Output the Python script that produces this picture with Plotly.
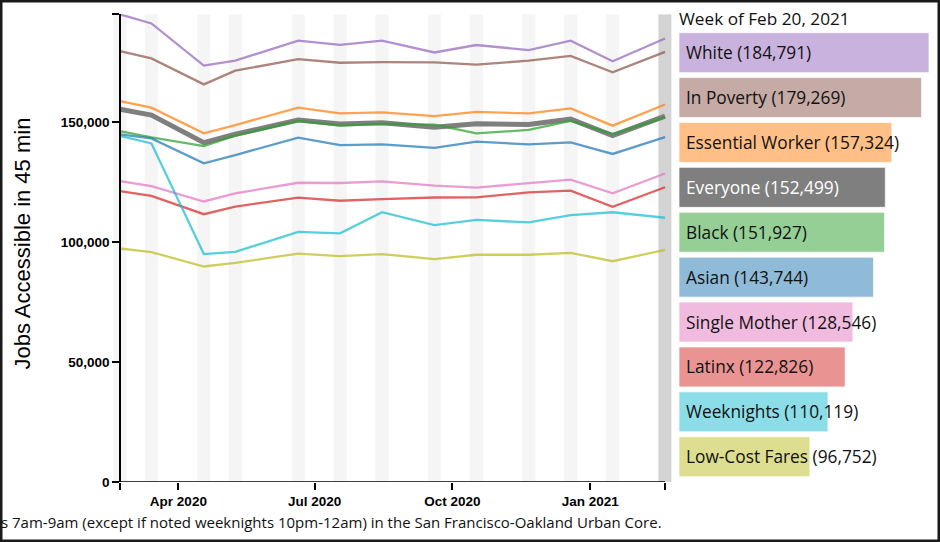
import pandas as pd
import plotly.graph_objects as go

# ---------------- data ----------------
dates = ['2020-02-22', '2020-03-14', '2020-04-18', '2020-05-09', '2020-06-20',
         '2020-07-18', '2020-08-15', '2020-09-19', '2020-10-17', '2020-11-21',
         '2020-12-19', '2021-01-16', '2021-02-20']

white = [194900, 191100, 173500, 175600, 183900, 182200, 183900, 179000, 182100, 180000, 183900, 175300, 184791]
in_poverty = [179600, 176500, 165700, 171400, 176250, 174700, 175000, 174900, 173900, 175600, 177600, 170700, 179269]
essential_worker = [158750, 156000, 145300, 148750, 156000, 153600, 154000, 152500, 154200, 153600, 155700, 148500, 157324]
everyone = [155300, 152900, 141400, 144900, 150800, 149200, 149700, 147800, 149300, 149000, 151250, 144400, 152499]
black = [146250, 143600, 140000, 144300, 150500, 148500, 149200, 148900, 145300, 146700, 150500, 145000, 151927]
asian = [144900, 143200, 132800, 136250, 143500, 140400, 140700, 139200, 141800, 140700, 141500, 136700, 143744]
single_mother = [125400, 123300, 116900, 120300, 124700, 124600, 125300, 123500, 122700, 124700, 126000, 120300, 128546]
latinx = [121250, 119250, 111600, 114800, 118500, 117200, 117900, 118550, 118650, 120700, 121450, 114650, 122826]
weeknights = [144200, 141100, 95000, 95900, 104200, 103600, 112450, 107050, 109200, 108200, 111250, 112400, 110119]
low_cost_fares = [97300, 95800, 89800, 91300, 95200, 94100, 95000, 92900, 94700, 94700, 95500, 92000, 96752]

series_names = ['White', 'In Poverty', 'Essential Worker', 'Everyone', 'Black', 'Asian',
                'Single Mother', 'Latinx', 'Weeknights', 'Low-Cost Fares']
series_values = [white, in_poverty, essential_worker, everyone, black, asian,
                 single_mother, latinx, weeknights, low_cost_fares]
series_colors = ['#9467bd', '#8c564b', '#ff7f0e', '#7f7f7f', '#2ca02c', '#1f77b4',
                 '#e377c2', '#d62728', '#17becf', '#bcbd22']

x_tick_dates = ['2020-04-01', '2020-07-01', '2020-10-01', '2021-01-01']
x_tick_labels = ['Apr 2020', 'Jul 2020', 'Oct 2020', 'Jan 2021']
y_tick_vals = [0, 50000, 100000, 150000]
y_tick_labels = ['0', '50,000', '100,000', '150,000']

week_title = 'Week of Feb 20, 2021'
y_title = 'Jobs Accessible in 45 min'
caption = 's 7am-9am (except if noted weeknights 10pm-12am) in the San Francisco-Oakland Urban Core.'

# ---------------- helpers ----------------
W, H = 940, 542          # reference frame (fractions are computed against it)
FIG_H = 550              # height of the visible page area


def rgba(hex_color, a):
    h = hex_color.lstrip('#')
    r, g, b = int(h[0:2], 16), int(h[2:4], 16), int(h[4:6], 16)
    return f'rgba({r},{g},{b},{a})'


dts = pd.to_datetime(dates)
half_band = pd.Timedelta(hours=4.4 * 24)
x_range = [dts[0] - half_band, dts[-1] + half_band]
y_max = max(max(v) for v in series_values)

x_dom = [113.4 / W, 671.6 / W]
y_dom = [(H - 482) / H, (H - 14.3) / H]
span = (x_range[1] - x_range[0]).total_seconds()
y_axis_pos = x_dom[0] + (x_dom[1] - x_dom[0]) * (dts[0] - x_range[0]).total_seconds() / span

fig = go.Figure()

# week stripes
shapes = []
for i, d in enumerate(dts):
    last = i == len(dts) - 1
    shapes.append(dict(type='rect', xref='x', yref='y', x0=d - half_band, x1=d + half_band,
                       y0=0, y1=y_max, fillcolor='#d3d3d3' if last else '#f5f5f5',
                       line=dict(width=0), layer='below'))
# x baseline between first and last week
shapes.append(dict(type='line', xref='x', yref='y', x0=dts[0], x1=dts[-1], y0=0, y1=0,
                   line=dict(color='black', width=1.5)))
# outer frame
shapes.append(dict(type='rect', xref='paper', yref='paper', x0=0, x1=1, y0=0, y1=1,
                   line=dict(color='#1a1a1a', width=5), fillcolor='rgba(0,0,0,0)'))

# lines (Everyone first, underneath)
order = [3] + [i for i in range(len(series_names)) if i != 3]
for i in order:
    is_all = series_names[i] == 'Everyone'
    fig.add_trace(go.Scatter(
        x=dts, y=series_values[i], mode='lines', name=series_names[i],
        line=dict(color=series_colors[i] if is_all else rgba(series_colors[i], 0.72),
                  width=5 if is_all else 2.3),
        xaxis='x', yaxis='y', showlegend=False, hoverinfo='skip'))

# bars for the last week
last_vals = [v[-1] for v in series_values]
bar_colors = [c if n == 'Everyone' else rgba(c, 0.5) for n, c in zip(series_names, series_colors)]
fig.add_trace(go.Bar(
    x=last_vals, y=series_names, orientation='h', xaxis='x2', yaxis='y2',
    marker=dict(color=bar_colors, line=dict(color='rgba(255,255,255,0.7)', width=1)),
    showlegend=False, hoverinfo='skip'))

label_font = 'Open Sans'
annotations = []
for n, v in zip(series_names, last_vals):
    annotations.append(dict(
        xref='x2', yref='y2', x=0, y=n, xanchor='left', yanchor='middle', xshift=5,
        text=f'{n} ({v:,})', showarrow=False,
        font=dict(family=label_font, size=17.3, color='white' if n == 'Everyone' else '#111')))
annotations.append(dict(xref='x2', yref='paper', x=0, y=(H - 19) / H, xanchor='left',
                        yanchor='middle', xshift=-2, text=week_title, showarrow=False,
                        font=dict(family=label_font, size=17.2, color='#111')))
annotations.append(dict(xref='paper', yref='paper', x=22 / W, y=(H - 243.5) / H,
                        xanchor='center', yanchor='middle', textangle=-90, text=y_title,
                        showarrow=False, font=dict(family='Liberation Sans', size=22, color='black')))
annotations.append(dict(xref='paper', yref='paper', x=664 / W, y=(H - 522) / H,
                        xanchor='right', yanchor='middle', text=caption, showarrow=False,
                        font=dict(family=label_font, size=15, color='#111')))

tick_font = dict(family='Liberation Sans', size=13.5, color='black', weight='bold')

fig.update_layout(
    width=W, height=FIG_H,
    margin=dict(l=0, r=0, t=0, b=0),
    paper_bgcolor='white', plot_bgcolor='white',
    bargap=0.11,
    shapes=shapes, annotations=annotations,
    xaxis=dict(domain=x_dom, range=x_range, type='date', anchor='y',
               tickvals=[dts[0]] + list(pd.to_datetime(x_tick_dates)) + [dts[-1]],
               ticktext=[''] + x_tick_labels + [''],
               ticks='outside', ticklen=7, tickwidth=1.5, tickcolor='black',
               showline=False, showgrid=False, zeroline=False, tickfont=tick_font),
    yaxis=dict(domain=y_dom, range=[0, y_max], anchor='free', position=y_axis_pos,
               tickvals=y_tick_vals + [y_max], ticktext=y_tick_labels + [''],
               ticks='outside', ticklen=7, tickwidth=1.5, tickcolor='black',
               showline=True, linecolor='black', linewidth=1.5,
               showgrid=False, zeroline=False, tickfont=tick_font),
    xaxis2=dict(domain=[679 / W, 929 / W], range=[0, max(last_vals)], anchor='y2',
                visible=False, fixedrange=True),
    yaxis2=dict(domain=[(H - 479.2) / H, (H - 30.2) / H], anchor='x2', visible=False,
                categoryorder='array', categoryarray=series_names,
                range=[len(series_names) - 0.5, -0.5]),
)

fig.write_html('out.html', config={'displayModeBar': False},
               post_script="document.body.style.margin='0';document.body.style.padding='0';"
                           "document.body.style.overflow='hidden';")
